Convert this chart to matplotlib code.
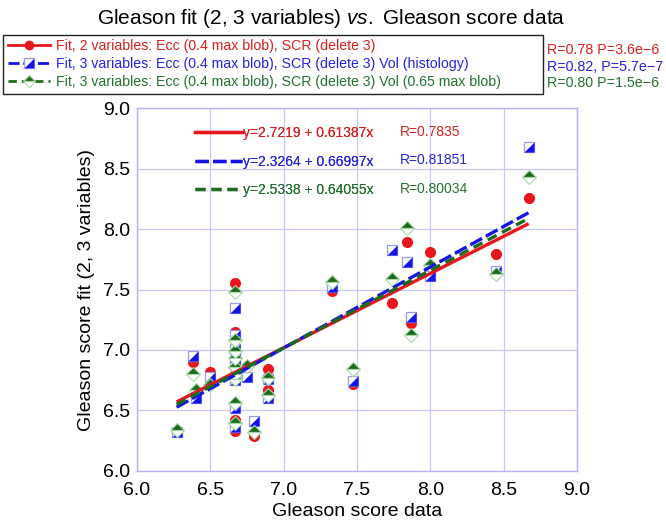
import matplotlib
matplotlib.use("Agg")
import matplotlib.pyplot as plt
from matplotlib.lines import Line2D
import numpy as np

plt.rcParams['font.family'] = ['Liberation Sans', 'DejaVu Sans']
plt.rcParams['mathtext.fontset'] = 'custom'
plt.rcParams['mathtext.it'] = 'Liberation Sans:italic'
plt.rcParams['mathtext.rm'] = 'Liberation Sans'

# ---------------- data ----------------
gleason_data = [6.27, 6.38, 6.40, 6.50,
                6.67, 6.67, 6.67, 6.67, 6.67, 6.67, 6.67, 6.67, 6.67,
                6.75, 6.80, 6.89, 6.89, 7.33, 7.47, 7.74, 7.84, 7.87,
                8.00, 8.45, 8.67]
fit2_ecc_scr = [6.33, 6.90, 6.65, 6.82,
                7.55, 7.15, 7.02, 6.95, 6.88, 6.80, 6.75, 6.42, 6.33,
                6.87, 6.29, 6.84, 6.67, 7.49, 6.72, 7.39, 7.89, 7.22,
                7.81, 7.79, 8.26]
fit3_vol_hist = [6.32, 6.95, 6.60, 6.78,
                 7.35, 7.12, 7.01, 6.94, 6.88, 6.78, 6.75, 6.52, 6.36,
                 6.78, 6.41, 6.76, 6.60, 7.52, 6.74, 7.83, 7.73, 7.27,
                 7.61, 7.65, 8.68]
fit3_vol_blob = [6.34, 6.80, 6.67, 6.71,
                 7.48, 7.08, 6.99, 6.93, 6.86, 6.80, 6.76, 6.56, 6.40,
                 6.87, 6.32, 6.77, 6.63, 7.56, 6.84, 7.59, 8.01, 7.12,
                 7.70, 7.63, 8.43]

intercepts = [2.7219, 2.3264, 2.5338]
slopes = [0.61387, 0.66997, 0.64055]
r_fit = ["0.7835", "0.81851", "0.80034"]
series_labels = ["Fit, 2 variables: Ecc (0.4 max blob), SCR (delete 3)",
                 "Fit, 3 variables: Ecc (0.4 max blob), SCR (delete 3) Vol (histology)",
                 "Fit, 3 variables: Ecc (0.4 max blob), SCR (delete 3) Vol (0.65 max blob)"]
stats_labels = ["R=0.78 P=3.6e\u22126", "R=0.82, P=5.7e\u22127", "R=0.80 P=1.5e\u22126"]
ticks = [6.0, 6.5, 7.0, 7.5, 8.0, 8.5, 9.0]

# ---------------- style ----------------
RED = '#e8161c'
BLUE = '#1414e6'
GREEN = '#1c6b1c'
TRED = '#d62020'
TBLUE = '#2424e0'
TGREEN = '#247030'
LAV = '#c8c8f4'

tri_lr = [(-1, -1), (1, -1), (1, 1), (-1, -1)]

fig = plt.figure(figsize=(6.66, 5.31), dpi=100)
ax = fig.add_axes([0.2057, 0.113, 0.6607, 0.6836])

x = np.array(gleason_data)
xs = np.array([x.min(), x.max()])

# points
ax.plot(x, fit2_ecc_scr, 'o', color=RED, ms=8, mec='none', zorder=3)
ax.plot(x, fit3_vol_hist, 's', mfc='white', mec='#9a9af0', mew=0.9, ms=7.3, zorder=4)
ax.plot(x, fit3_vol_hist, marker=tri_lr, ls='none', color=BLUE, mec='none', ms=7.3, zorder=4)
ax.plot(x, fit3_vol_blob, 'D', ms=6.8, fillstyle='top', mfc=GREEN,
        markerfacecoloralt='white', mec='#a8d8a8', mew=0.8, zorder=5)

# fit lines
styles = [dict(color=RED, lw=2.4, ls='-'),
          dict(color=BLUE, lw=2.4, ls=(0, (4, 1.3))),
          dict(color=GREEN, lw=2.4, ls=(0, (3, 1.8)))]
for b0, b1, st in zip(intercepts, slopes, styles):
    ax.plot(xs, b0 + b1 * xs, zorder=6, solid_capstyle='butt', dash_capstyle='butt', **st)

ax.set_xlim(6, 9)
ax.set_ylim(6, 9)
ax.set_xticks(ticks)
ax.set_yticks(ticks)
ax.set_xticklabels([f"{t:.1f}" for t in ticks])
ax.set_yticklabels([f"{t:.1f}" for t in ticks])
ax.grid(True, color=LAV, lw=0.9)
ax.set_axisbelow(True)
for s in ax.spines.values():
    s.set_color('#b4b4ee')
    s.set_linewidth(1.0)
ax.tick_params(direction='in', length=4, color=LAV, labelsize=14)
ax.tick_params(axis='x', pad=8)
ax.tick_params(axis='y', pad=5)
ax.set_xlabel("Gleason score data", fontsize=14, labelpad=3)
ax.set_ylabel("Gleason score fit (2, 3 variables)", fontsize=14, labelpad=6)

# in-plot equation legend
eq_labels = [f"y={b0:.4f} + {b1:.5f}x" for b0, b1 in zip(intercepts, slopes)]
eq_handles = [Line2D([], [], **st) for st in styles]
leg2 = ax.legend(eq_handles, eq_labels, loc='upper left', bbox_to_anchor=(0.103, 0.985),
                 frameon=False, fontsize=10, labelcolor=[TRED, TBLUE, TGREEN],
                 handlelength=3.4, handletextpad=0.05, labelspacing=1.05)
ax.add_artist(leg2)
for i, (r, c) in enumerate(zip(r_fit, [TRED, TBLUE, TGREEN])):
    ax.text(0.598, 0.935 - i * 0.0795, f"R={r}", color=c, fontsize=10,
            transform=ax.transAxes, va='center', ha='left')

# top legend
h_red = Line2D([], [], color=RED, lw=2, marker='o', ms=7, mec='none')
h_blue = (Line2D([], [], color=BLUE, lw=2, ls=(0, (4, 1.3)), marker='s', ms=7,
                 mfc='white', mec='#9a9af0', mew=0.9),
          Line2D([], [], ls='none', marker=tri_lr, color=BLUE, mec='none', ms=7))
h_green = Line2D([], [], color=GREEN, lw=2, ls=(0, (3, 1.8)), marker='D', ms=6.5,
                 fillstyle='top', mfc=GREEN, markerfacecoloralt='white',
                 mec='#a8d8a8', mew=0.8)
leg = fig.legend([h_red, h_blue, h_green], series_labels,
                 loc='upper left', bbox_to_anchor=(0.005, 0.935, 0.81, 0.0),
                 mode='expand',
                 fontsize=10.2, labelcolor=[TRED, TBLUE, TGREEN],
                 handlelength=3.0, handletextpad=0.45, labelspacing=0.3,
                 borderpad=0.3, borderaxespad=0.0, fancybox=False, edgecolor='#222222',
                 framealpha=1)
leg.get_frame().set_linewidth(1.0)

for i, (s, c) in enumerate(zip(stats_labels, [TRED, TBLUE, TGREEN])):
    fig.text(0.822, 0.905 - i * 0.0305, s, color=c, fontsize=10.3, va='center', ha='left')

# title
fig.text(0.497, 0.966, "Gleason fit (2, 3 variables) $vs.$ Gleason score data",
         ha='center', va='center', fontsize=15)

fig.savefig("out.png", dpi=100)
